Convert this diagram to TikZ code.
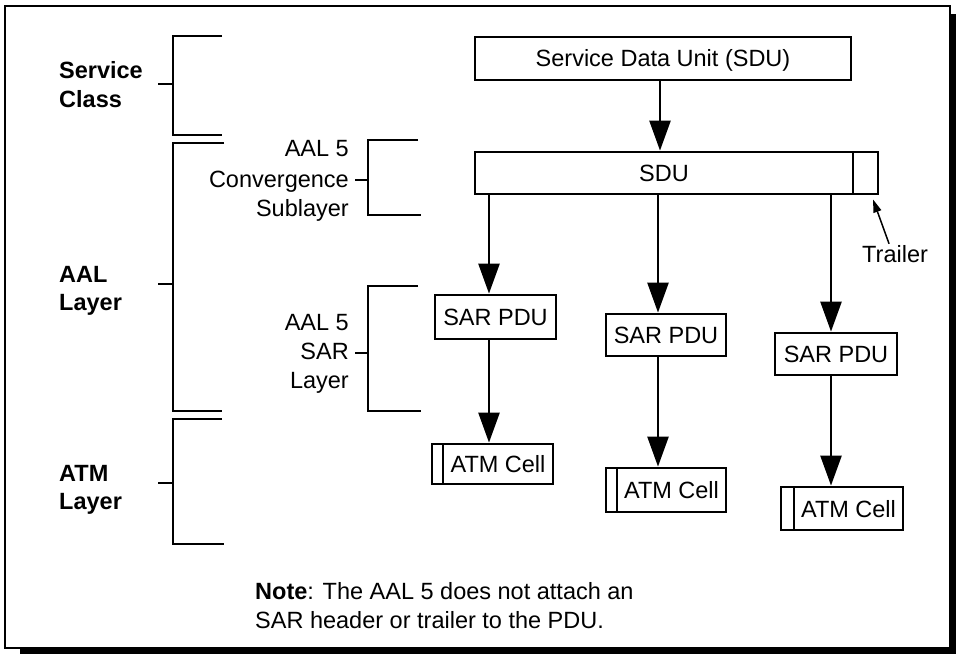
\documentclass[tikz,border=0pt]{standalone}
\usepackage{fontspec}
\setmainfont{Liberation Sans}
\usetikzlibrary{arrows.meta,calc}
\begin{document}
\begin{tikzpicture}[x=1pt,y=-1pt,
  txt/.style={inner sep=0pt, font=\fontsize{23.5}{29}\selectfont},
  btxt/.style={inner sep=0pt, font=\fontsize{23.5}{29}\selectfont\bfseries},
  box/.style={draw, line width=2.8pt, inner sep=0pt, font=\fontsize{23.5}{29}\selectfont, text height=17pt, text depth=0pt},
  hdr/.style={draw, line width=2.8pt, inner sep=0pt},
  bigarrow/.style={-{Triangle[length=30pt,width=21pt]}, line width=2.5pt},
  brk/.style={line width=2.6pt},
  thinarrow/.style={-{Triangle[length=13pt,width=8pt]}, line width=1.5pt}
]
\useasboundingbox (0,0) rectangle (960,655);
\fill[white] (0,0) rectangle (960,655);
% frame and shadow
\draw[line width=2.2pt] (5,6) rectangle (950,648);
\fill (950,14) rectangle (956,654);
\fill (20,648) rectangle (956,654);

% left brackets
\draw[brk] (222,36) -- (173,36) -- (173,135) -- (222,135);
\draw[brk] (158,84) -- (173,84);
\draw[brk] (224,143) -- (173,143) -- (173,411) -- (222,411);
\draw[brk] (158,284) -- (173,284);
\draw[brk] (222,419) -- (173,419) -- (173,544) -- (224,544);
\draw[brk] (158,483) -- (173,483);
% middle brackets
\draw[brk] (418,140) -- (368,140) -- (368,215) -- (421,215);
\draw[brk] (355,180) -- (368,180);
\draw[brk] (418,286) -- (368,286) -- (368,411) -- (421,411);
\draw[brk] (355,353) -- (368,353);

% left labels
\node[btxt, anchor=base west] (sc1) at (59,79) {Service};
\node[btxt, anchor=base west] (sc2) at (59,108) {Class};
\node[btxt, anchor=base west] (al1) at (59,282) {AAL};
\node[btxt, anchor=base west] (al2) at (59,310) {Layer};
\node[btxt, anchor=base west] (at1) at (59,481) {ATM};
\node[btxt, anchor=base west] (at2) at (59,509) {Layer};
% middle labels
\node[txt, anchor=base east] (cs1) at (349,157) {AAL 5};
\node[txt, anchor=base east] (cs2) at (349,187) {Convergence};
\node[txt, anchor=base east] (cs3) at (349,216) {Sublayer};
\node[txt, anchor=base east] (sl1) at (349,330) {AAL 5};
\node[txt, anchor=base east] (sl2) at (349,359) {SAR};
\node[txt, anchor=base east] (sl3) at (349,388) {Layer};

% boxes
\node[box, minimum width=376pt, minimum height=43pt] (sdu0) at (663,58.5) {Service Data Unit (SDU)};
\node[box, minimum width=378pt, minimum height=42pt] (sdu) at (664,173) {SDU};
\node[hdr, minimum width=25pt, minimum height=42pt] (trbox) at (865.5,173) {};
\node[box, minimum width=121pt, minimum height=44pt] (sar1) at (495.5,317) {SAR PDU};
\node[box, minimum width=120pt, minimum height=42pt] (sar2) at (666,335) {SAR PDU};
\node[box, minimum width=122pt, minimum height=42pt] (sar3) at (836,354) {SAR PDU};
\node[hdr, minimum width=11pt, minimum height=40pt] (atmh1) at (437.5,464) {};
\node[box, minimum width=110pt, minimum height=40pt] (atm1) at (498,464) {ATM Cell};
\node[hdr, minimum width=11pt, minimum height=44pt] (atmh2) at (611.5,490) {};
\node[box, minimum width=109pt, minimum height=44pt] (atm2) at (671.5,490) {ATM Cell};
\node[hdr, minimum width=13pt, minimum height=43pt] (atmh3) at (787.5,508.5) {};
\node[box, minimum width=109pt, minimum height=43pt] (atm3) at (848.5,508.5) {ATM Cell};

% arrow columns
\coordinate (c0) at (660,0);
\coordinate (c1) at (489,0);
\coordinate (c2) at (658,0);
\coordinate (c3) at (831,0);
\draw[bigarrow] (sdu0.south -| c0) -- (sdu.north -| c0);
\draw[bigarrow] (sdu.south -| c1) -- (sar1.north -| c1);
\draw[bigarrow] (sdu.south -| c2) -- (sar2.north -| c2);
\draw[bigarrow] (sdu.south -| c3) -- (sar3.north -| c3);
\draw[bigarrow] (sar1.south -| c1) -- (atm1.north -| c1);
\draw[bigarrow] (sar2.south -| c2) -- (atm2.north -| c2);
\draw[bigarrow] (sar3.south -| c3) -- (atm3.north -| c3);

% trailer
\node[txt, anchor=base west] (trl) at (862,262) {Trailer};
\draw[thinarrow] ([xshift=-6pt,yshift=1pt]trl.north) -- ([xshift=7.5pt,yshift=-4pt]trbox.south);

% note
\node[txt, anchor=base west] (n1) at (255,599) {\textbf{Note}: The AAL 5 does not attach an};
\node[txt, anchor=base west] (n2) at (255,628) {SAR header or trailer to the PDU.};
\end{tikzpicture}
\end{document}
